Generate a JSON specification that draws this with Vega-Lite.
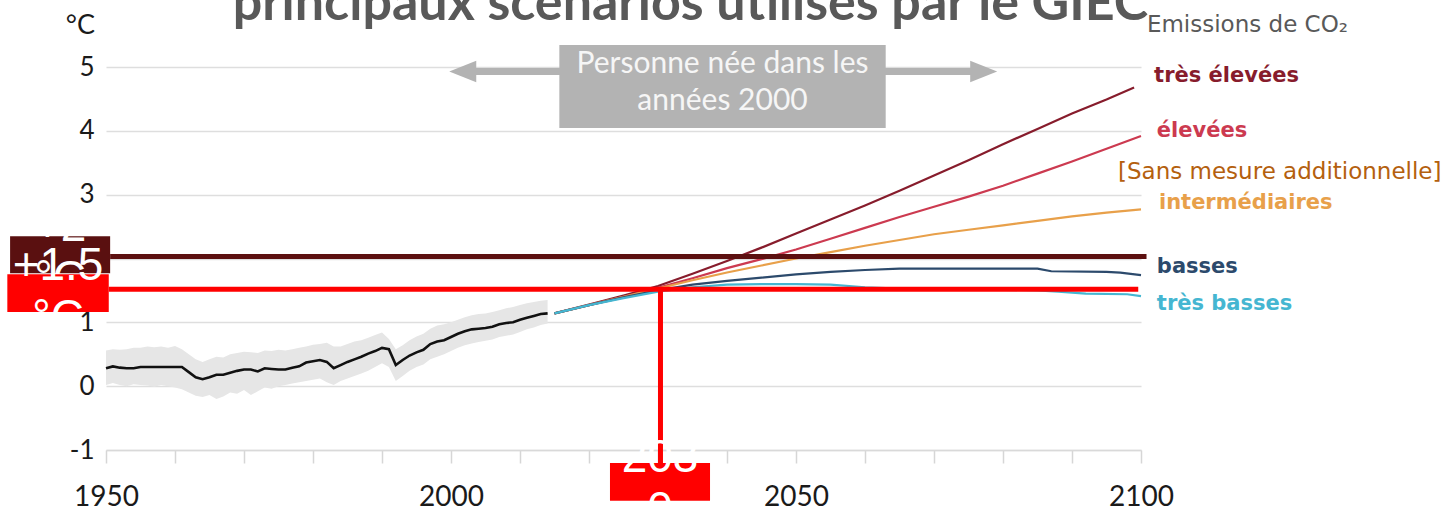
{
  "$schema": "https://vega.github.io/schema/vega-lite/v6.json",
  "autosize": "none",
  "width": 1035,
  "height": 383,
  "padding": {"left": 106, "top": 67, "right": 309, "bottom": 58},
  "background": "white",
  "config": {"view": {"stroke": null}},
  "datasets": {
    "hist": [
      {"year":1950,"value":0.28,"lo":0.02,"hi":0.56},{"year":1951,"value":0.31,"lo":0.05,"hi":0.58},{"year":1952,"value":0.29,"lo":0.02,"hi":0.57},{"year":1953,"value":0.28,"lo":0.0,"hi":0.58},{"year":1954,"value":0.28,"lo":0.03,"hi":0.6},
      {"year":1955,"value":0.3,"lo":0.02,"hi":0.6},{"year":1956,"value":0.3,"lo":0.01,"hi":0.62},{"year":1957,"value":0.3,"lo":-0.01,"hi":0.61},{"year":1958,"value":0.3,"lo":0.02,"hi":0.62},{"year":1959,"value":0.3,"lo":0.0,"hi":0.6},
      {"year":1960,"value":0.3,"lo":-0.02,"hi":0.63},{"year":1961,"value":0.3,"lo":-0.05,"hi":0.58},{"year":1962,"value":0.22,"lo":-0.1,"hi":0.5},{"year":1963,"value":0.14,"lo":-0.15,"hi":0.42},{"year":1964,"value":0.11,"lo":-0.17,"hi":0.38},
      {"year":1965,"value":0.14,"lo":-0.14,"hi":0.42},{"year":1966,"value":0.18,"lo":-0.2,"hi":0.46},{"year":1967,"value":0.18,"lo":-0.16,"hi":0.45},{"year":1968,"value":0.21,"lo":-0.1,"hi":0.5},{"year":1969,"value":0.24,"lo":-0.12,"hi":0.52},
      {"year":1970,"value":0.26,"lo":-0.06,"hi":0.54},{"year":1971,"value":0.26,"lo":-0.14,"hi":0.53},{"year":1972,"value":0.23,"lo":-0.08,"hi":0.52},{"year":1973,"value":0.28,"lo":-0.02,"hi":0.56},{"year":1974,"value":0.27,"lo":-0.04,"hi":0.55},
      {"year":1975,"value":0.26,"lo":0.0,"hi":0.57},{"year":1976,"value":0.26,"lo":0.02,"hi":0.56},{"year":1977,"value":0.29,"lo":0.04,"hi":0.58},{"year":1978,"value":0.31,"lo":0.06,"hi":0.6},{"year":1979,"value":0.37,"lo":0.08,"hi":0.62},
      {"year":1980,"value":0.39,"lo":0.1,"hi":0.65},{"year":1981,"value":0.41,"lo":0.12,"hi":0.66},{"year":1982,"value":0.38,"lo":0.06,"hi":0.68},{"year":1983,"value":0.28,"lo":0.02,"hi":0.62},{"year":1984,"value":0.33,"lo":0.08,"hi":0.62},
      {"year":1985,"value":0.38,"lo":0.12,"hi":0.66},{"year":1986,"value":0.42,"lo":0.16,"hi":0.7},{"year":1987,"value":0.46,"lo":0.2,"hi":0.72},{"year":1988,"value":0.51,"lo":0.24,"hi":0.76},{"year":1989,"value":0.55,"lo":0.3,"hi":0.8},
      {"year":1990,"value":0.6,"lo":0.36,"hi":0.84},{"year":1991,"value":0.58,"lo":0.3,"hi":0.74},{"year":1992,"value":0.33,"lo":0.08,"hi":0.58},{"year":1993,"value":0.41,"lo":0.16,"hi":0.64},{"year":1994,"value":0.48,"lo":0.24,"hi":0.72},
      {"year":1995,"value":0.53,"lo":0.3,"hi":0.78},{"year":1996,"value":0.57,"lo":0.34,"hi":0.82},{"year":1997,"value":0.66,"lo":0.42,"hi":0.9},{"year":1998,"value":0.7,"lo":0.46,"hi":0.95},{"year":1999,"value":0.72,"lo":0.5,"hi":0.97},
      {"year":2000,"value":0.77,"lo":0.55,"hi":1.0},{"year":2001,"value":0.82,"lo":0.6,"hi":1.04},{"year":2002,"value":0.86,"lo":0.64,"hi":1.08},{"year":2003,"value":0.89,"lo":0.67,"hi":1.11},{"year":2004,"value":0.9,"lo":0.69,"hi":1.13},
      {"year":2005,"value":0.91,"lo":0.71,"hi":1.14},{"year":2006,"value":0.93,"lo":0.73,"hi":1.16},{"year":2007,"value":0.97,"lo":0.77,"hi":1.19},{"year":2008,"value":0.99,"lo":0.79,"hi":1.22},{"year":2009,"value":1.0,"lo":0.81,"hi":1.24},
      {"year":2010,"value":1.04,"lo":0.85,"hi":1.27},{"year":2011,"value":1.07,"lo":0.89,"hi":1.3},{"year":2012,"value":1.1,"lo":0.92,"hi":1.32},{"year":2013,"value":1.13,"lo":0.96,"hi":1.34},{"year":2014,"value":1.14,"lo":0.98,"hi":1.35}
    ],
    "scen": [
      {"serie":"très élevées","year":2015,"value":1.14},{"serie":"très élevées","year":2020,"value":1.28},{"serie":"très élevées","year":2025,"value":1.42},{"serie":"très élevées","year":2030,"value":1.57},{"serie":"très élevées","year":2035,"value":1.76},{"serie":"très élevées","year":2040,"value":1.96},{"serie":"très élevées","year":2045,"value":2.17},{"serie":"très élevées","year":2050,"value":2.39},{"serie":"très élevées","year":2055,"value":2.61},{"serie":"très élevées","year":2060,"value":2.83},{"serie":"très élevées","year":2065,"value":3.06},{"serie":"très élevées","year":2070,"value":3.3},{"serie":"très élevées","year":2075,"value":3.54},{"serie":"très élevées","year":2080,"value":3.79},{"serie":"très élevées","year":2085,"value":4.03},{"serie":"très élevées","year":2090,"value":4.27},{"serie":"très élevées","year":2095,"value":4.49},{"serie":"très élevées","year":2099,"value":4.68},
      {"serie":"élevées","year":2015,"value":1.14},{"serie":"élevées","year":2020,"value":1.27},{"serie":"élevées","year":2025,"value":1.4},{"serie":"élevées","year":2030,"value":1.54},{"serie":"élevées","year":2035,"value":1.69},{"serie":"élevées","year":2040,"value":1.85},{"serie":"élevées","year":2045,"value":1.99},{"serie":"élevées","year":2050,"value":2.14},{"serie":"élevées","year":2055,"value":2.31},{"serie":"élevées","year":2060,"value":2.48},{"serie":"élevées","year":2065,"value":2.65},{"serie":"élevées","year":2070,"value":2.81},{"serie":"élevées","year":2075,"value":2.97},{"serie":"élevées","year":2080,"value":3.14},{"serie":"élevées","year":2085,"value":3.33},{"serie":"élevées","year":2090,"value":3.52},{"serie":"élevées","year":2095,"value":3.72},{"serie":"élevées","year":2100,"value":3.92},
      {"serie":"intermédiaires","year":2015,"value":1.14},{"serie":"intermédiaires","year":2020,"value":1.27},{"serie":"intermédiaires","year":2025,"value":1.4},{"serie":"intermédiaires","year":2030,"value":1.53},{"serie":"intermédiaires","year":2035,"value":1.66},{"serie":"intermédiaires","year":2040,"value":1.78},{"serie":"intermédiaires","year":2045,"value":1.89},{"serie":"intermédiaires","year":2050,"value":2.0},{"serie":"intermédiaires","year":2055,"value":2.1},{"serie":"intermédiaires","year":2060,"value":2.2},{"serie":"intermédiaires","year":2065,"value":2.29},{"serie":"intermédiaires","year":2070,"value":2.38},{"serie":"intermédiaires","year":2075,"value":2.45},{"serie":"intermédiaires","year":2080,"value":2.52},{"serie":"intermédiaires","year":2085,"value":2.59},{"serie":"intermédiaires","year":2090,"value":2.66},{"serie":"intermédiaires","year":2095,"value":2.72},{"serie":"intermédiaires","year":2100,"value":2.77},
      {"serie":"basses","year":2015,"value":1.14},{"serie":"basses","year":2020,"value":1.27},{"serie":"basses","year":2025,"value":1.39},{"serie":"basses","year":2030,"value":1.5},{"serie":"basses","year":2035,"value":1.59},{"serie":"basses","year":2040,"value":1.65},{"serie":"basses","year":2045,"value":1.7},{"serie":"basses","year":2050,"value":1.75},{"serie":"basses","year":2055,"value":1.79},{"serie":"basses","year":2060,"value":1.82},{"serie":"basses","year":2065,"value":1.84},{"serie":"basses","year":2085,"value":1.84},{"serie":"basses","year":2087,"value":1.8},{"serie":"basses","year":2095,"value":1.79},{"serie":"basses","year":2097,"value":1.78},{"serie":"basses","year":2100,"value":1.74},
      {"serie":"très basses","year":2015,"value":1.14},{"serie":"très basses","year":2020,"value":1.27},{"serie":"très basses","year":2025,"value":1.38},{"serie":"très basses","year":2030,"value":1.48},{"serie":"très basses","year":2035,"value":1.55},{"serie":"très basses","year":2040,"value":1.59},{"serie":"très basses","year":2045,"value":1.6},{"serie":"très basses","year":2050,"value":1.6},{"serie":"très basses","year":2055,"value":1.59},{"serie":"très basses","year":2060,"value":1.55},{"serie":"très basses","year":2065,"value":1.53},{"serie":"très basses","year":2075,"value":1.52},{"serie":"très basses","year":2085,"value":1.5},{"serie":"très basses","year":2088,"value":1.48},{"serie":"très basses","year":2092,"value":1.45},{"serie":"très basses","year":2098,"value":1.44},{"serie":"très basses","year":2100,"value":1.41}
    ],
    "labels": [
      {"serie":"très élevées","year":2101.9,"value":4.86},
      {"serie":"élevées","year":2102.3,"value":3.99},
      {"serie":"intermédiaires","year":2102.6,"value":2.87},
      {"serie":"basses","year":2102.3,"value":1.86},
      {"serie":"très basses","year":2102.3,"value":1.28}
    ]
  },
  "encoding": {
    "x": {"field": "year", "type": "quantitative",
      "scale": {"domain": [1950, 2100], "nice": false, "zero": false},
      "axis": {"title": null, "values": [1950,1960,1970,1980,1990,2000,2010,2020,2030,2040,2050,2060,2070,2080,2090,2100],
        "labelExpr": "datum.value % 50 === 0 ? datum.label : ''", "format": "d", "labelFlush": false,
        "grid": false, "domain": true, "domainColor": "#d9d9d9", "domainWidth": 1.5,
        "ticks": true, "tickColor": "#d6d6d6", "tickWidth": 1.5, "tickSize": 13,
        "labelFont": "Lato", "labelFontSize": 28, "labelColor": "#1a1a1a",
        "labelBaseline": "alphabetic", "labelPadding": 42, "labelOverlap": false}},
    "y": {"field": "value", "type": "quantitative",
      "scale": {"domain": [-1, 5], "nice": false, "zero": false},
      "axis": {"title": null, "values": [-1,0,1,2,3,4,5], "grid": true, "gridColor": "#dedede", "gridWidth": 1.5,
        "labelExpr": "'' + datum.value",
        "domain": false, "ticks": false, "labelFont": "Lato", "labelFontSize": 26, "labelColor": "#1a1a1a",
        "labelPadding": 12, "labelAlign": "right", "labelBaseline": "middle"}}
  },
  "layer": [
    {"data": {"name": "hist"}, "mark": {"type": "area", "color": "#e6e6e6"},
     "encoding": {"y": {"field": "lo", "type": "quantitative"}, "y2": {"field": "hi"}}},
    {"data": {"name": "hist"}, "mark": {"type": "line", "color": "#111111", "strokeWidth": 2.6}},
    {"data": {"name": "scen"}, "mark": {"type": "line", "strokeWidth": 2.2},
     "encoding": {"color": {"field": "serie", "type": "nominal", "legend": null,
       "scale": {"domain": ["très élevées","élevées","intermédiaires","basses","très basses"],
                 "range": ["#871c2c","#cc3a50","#e8a04a","#2c4a6c","#45b6d1"]}},
       "detail": {"field": "serie"}}},
    {"data": {"values": [{"year": 2001.7, "year2": 2077.2, "value": 4.93}]},
     "mark": {"type": "rule", "color": "#b3b3b3", "strokeWidth": 7},
     "encoding": {"x2": {"field": "year2"}}},
    {"data": {"values": [{"year": 2001.7, "value": 4.93}]},
     "mark": {"type": "point", "filled": true, "opacity": 1, "color": "#b3b3b3", "size": 729, "shape": "M-1,0L1,-0.8L1,0.8Z"}},
    {"data": {"values": [{"year": 2077.2, "value": 4.93}]},
     "mark": {"type": "point", "filled": true, "opacity": 1, "color": "#b3b3b3", "size": 729, "shape": "M1,0L-1,-0.8L-1,0.8Z"}},
    {"data": {"values": [{"year": 2015.7, "year2": 2063.0, "value": 5.345, "value2": 4.044}]},
     "mark": {"type": "rect", "color": "#b3b3b3"},
     "encoding": {"x2": {"field": "year2"}, "y2": {"field": "value2"}}},
    {"data": {"values": [{"year": 2039.35, "value": 4.906, "t": "Personne née dans les"}, {"year": 2039.35, "value": 4.326, "t": "années 2000"}]},
     "mark": {"type": "text", "font": "Lato", "fontSize": 30, "color": "#f6f6f6", "align": "center", "baseline": "alphabetic"},
     "encoding": {"text": {"field": "t"}}},
    {"data": {"values": [{"year": 2034.7, "value": 5.74, "t": "principaux scénarios utilisés par le GIEC"}]},
     "mark": {"type": "text", "font": "Lato", "fontWeight": "bold", "fontSize": 52, "color": "#595959", "align": "center", "baseline": "alphabetic"},
     "encoding": {"text": {"field": "t"}}},
    {"data": {"values": [{"year": 1950.6, "year2": 2100.8, "value": 2.03}]},
     "mark": {"type": "rule", "color": "#5c1010", "strokeWidth": 5},
     "encoding": {"x2": {"field": "year2"}}},
    {"data": {"values": [{"year": 1950.4, "year2": 2099.6, "value": 1.518}]},
     "mark": {"type": "rule", "color": "#ff0000", "strokeWidth": 5},
     "encoding": {"x2": {"field": "year2"}}},
    {"data": {"values": [{"year": 2030.36, "value": 1.518, "value2": -1.21}]},
     "mark": {"type": "rule", "color": "#ff0000", "strokeWidth": 5},
     "encoding": {"y2": {"field": "value2"}}},
    {"data": {"values": [{"year": 1936.1, "year2": 1950.6, "value": 2.35, "value2": 1.77}]},
     "mark": {"type": "rect", "color": "#5a1010"},
     "encoding": {"x2": {"field": "year2"}, "y2": {"field": "value2"}}},
    {"data": {"values": [{"year": 1943.35, "value": 2.5, "t": "+2\n°C"}]},
     "mark": {"type": "text", "font": "Liberation Sans", "fontSize": 46, "lineHeight": 52, "lineBreak": "\n", "color": "#ffffff", "align": "center", "baseline": "middle"},
     "encoding": {"text": {"field": "t"}}},
    {"data": {"values": [{"year": 1935.7, "year2": 1950.4, "value": 1.755, "value2": 1.16}]},
     "mark": {"type": "rect", "color": "#ff0000"},
     "encoding": {"x2": {"field": "year2"}, "y2": {"field": "value2"}}},
    {"data": {"values": [{"year": 1943.05, "value": 1.89, "t": "+1.5\n°C"}]},
     "mark": {"type": "text", "font": "Liberation Sans", "fontSize": 46, "lineHeight": 52, "lineBreak": "\n", "color": "#ffffff", "align": "center", "baseline": "middle"},
     "encoding": {"text": {"field": "t"}}},
    {"data": {"values": [{"year": 2023.04, "year2": 2037.54, "value": -1.204, "value2": -1.794}]},
     "mark": {"type": "rect", "color": "#ff0000"},
     "encoding": {"x2": {"field": "year2"}, "y2": {"field": "value2"}}},
    {"data": {"values": [{"year": 2030.3, "value": -1.125, "t": "203\n0"}]},
     "mark": {"type": "text", "font": "Liberation Sans", "fontSize": 46, "lineHeight": 52, "lineBreak": "\n", "color": "#ffffff", "align": "center", "baseline": "middle"},
     "encoding": {"text": {"field": "t"}}},
    {"data": {"name": "labels"},
     "mark": {"type": "text", "font": "DejaVu Sans", "fontWeight": "bold", "fontSize": 21, "align": "left", "baseline": "middle"},
     "encoding": {"text": {"field": "serie"}, "color": {"field": "serie", "type": "nominal", "legend": null}}},
    {"data": {"values": [{"year": 2100.86, "value": 5.66, "t": "Emissions de CO₂"}]},
     "mark": {"type": "text", "font": "DejaVu Sans", "fontSize": 23, "color": "#595959", "align": "left", "baseline": "middle"},
     "encoding": {"text": {"field": "t"}}},
    {"data": {"values": [{"year": 2096.67, "value": 3.355, "t": "[Sans mesure additionnelle]"}]},
     "mark": {"type": "text", "font": "DejaVu Sans", "fontSize": 23, "color": "#b4600e", "align": "left", "baseline": "middle"},
     "encoding": {"text": {"field": "t"}}},
    {"data": {"values": [{"year": 1948.4, "value": 5.64, "t": "°C"}]},
     "mark": {"type": "text", "font": "Lato", "fontSize": 27, "color": "#1a1a1a", "align": "right", "baseline": "middle"},
     "encoding": {"text": {"field": "t"}}}
  ]
}
